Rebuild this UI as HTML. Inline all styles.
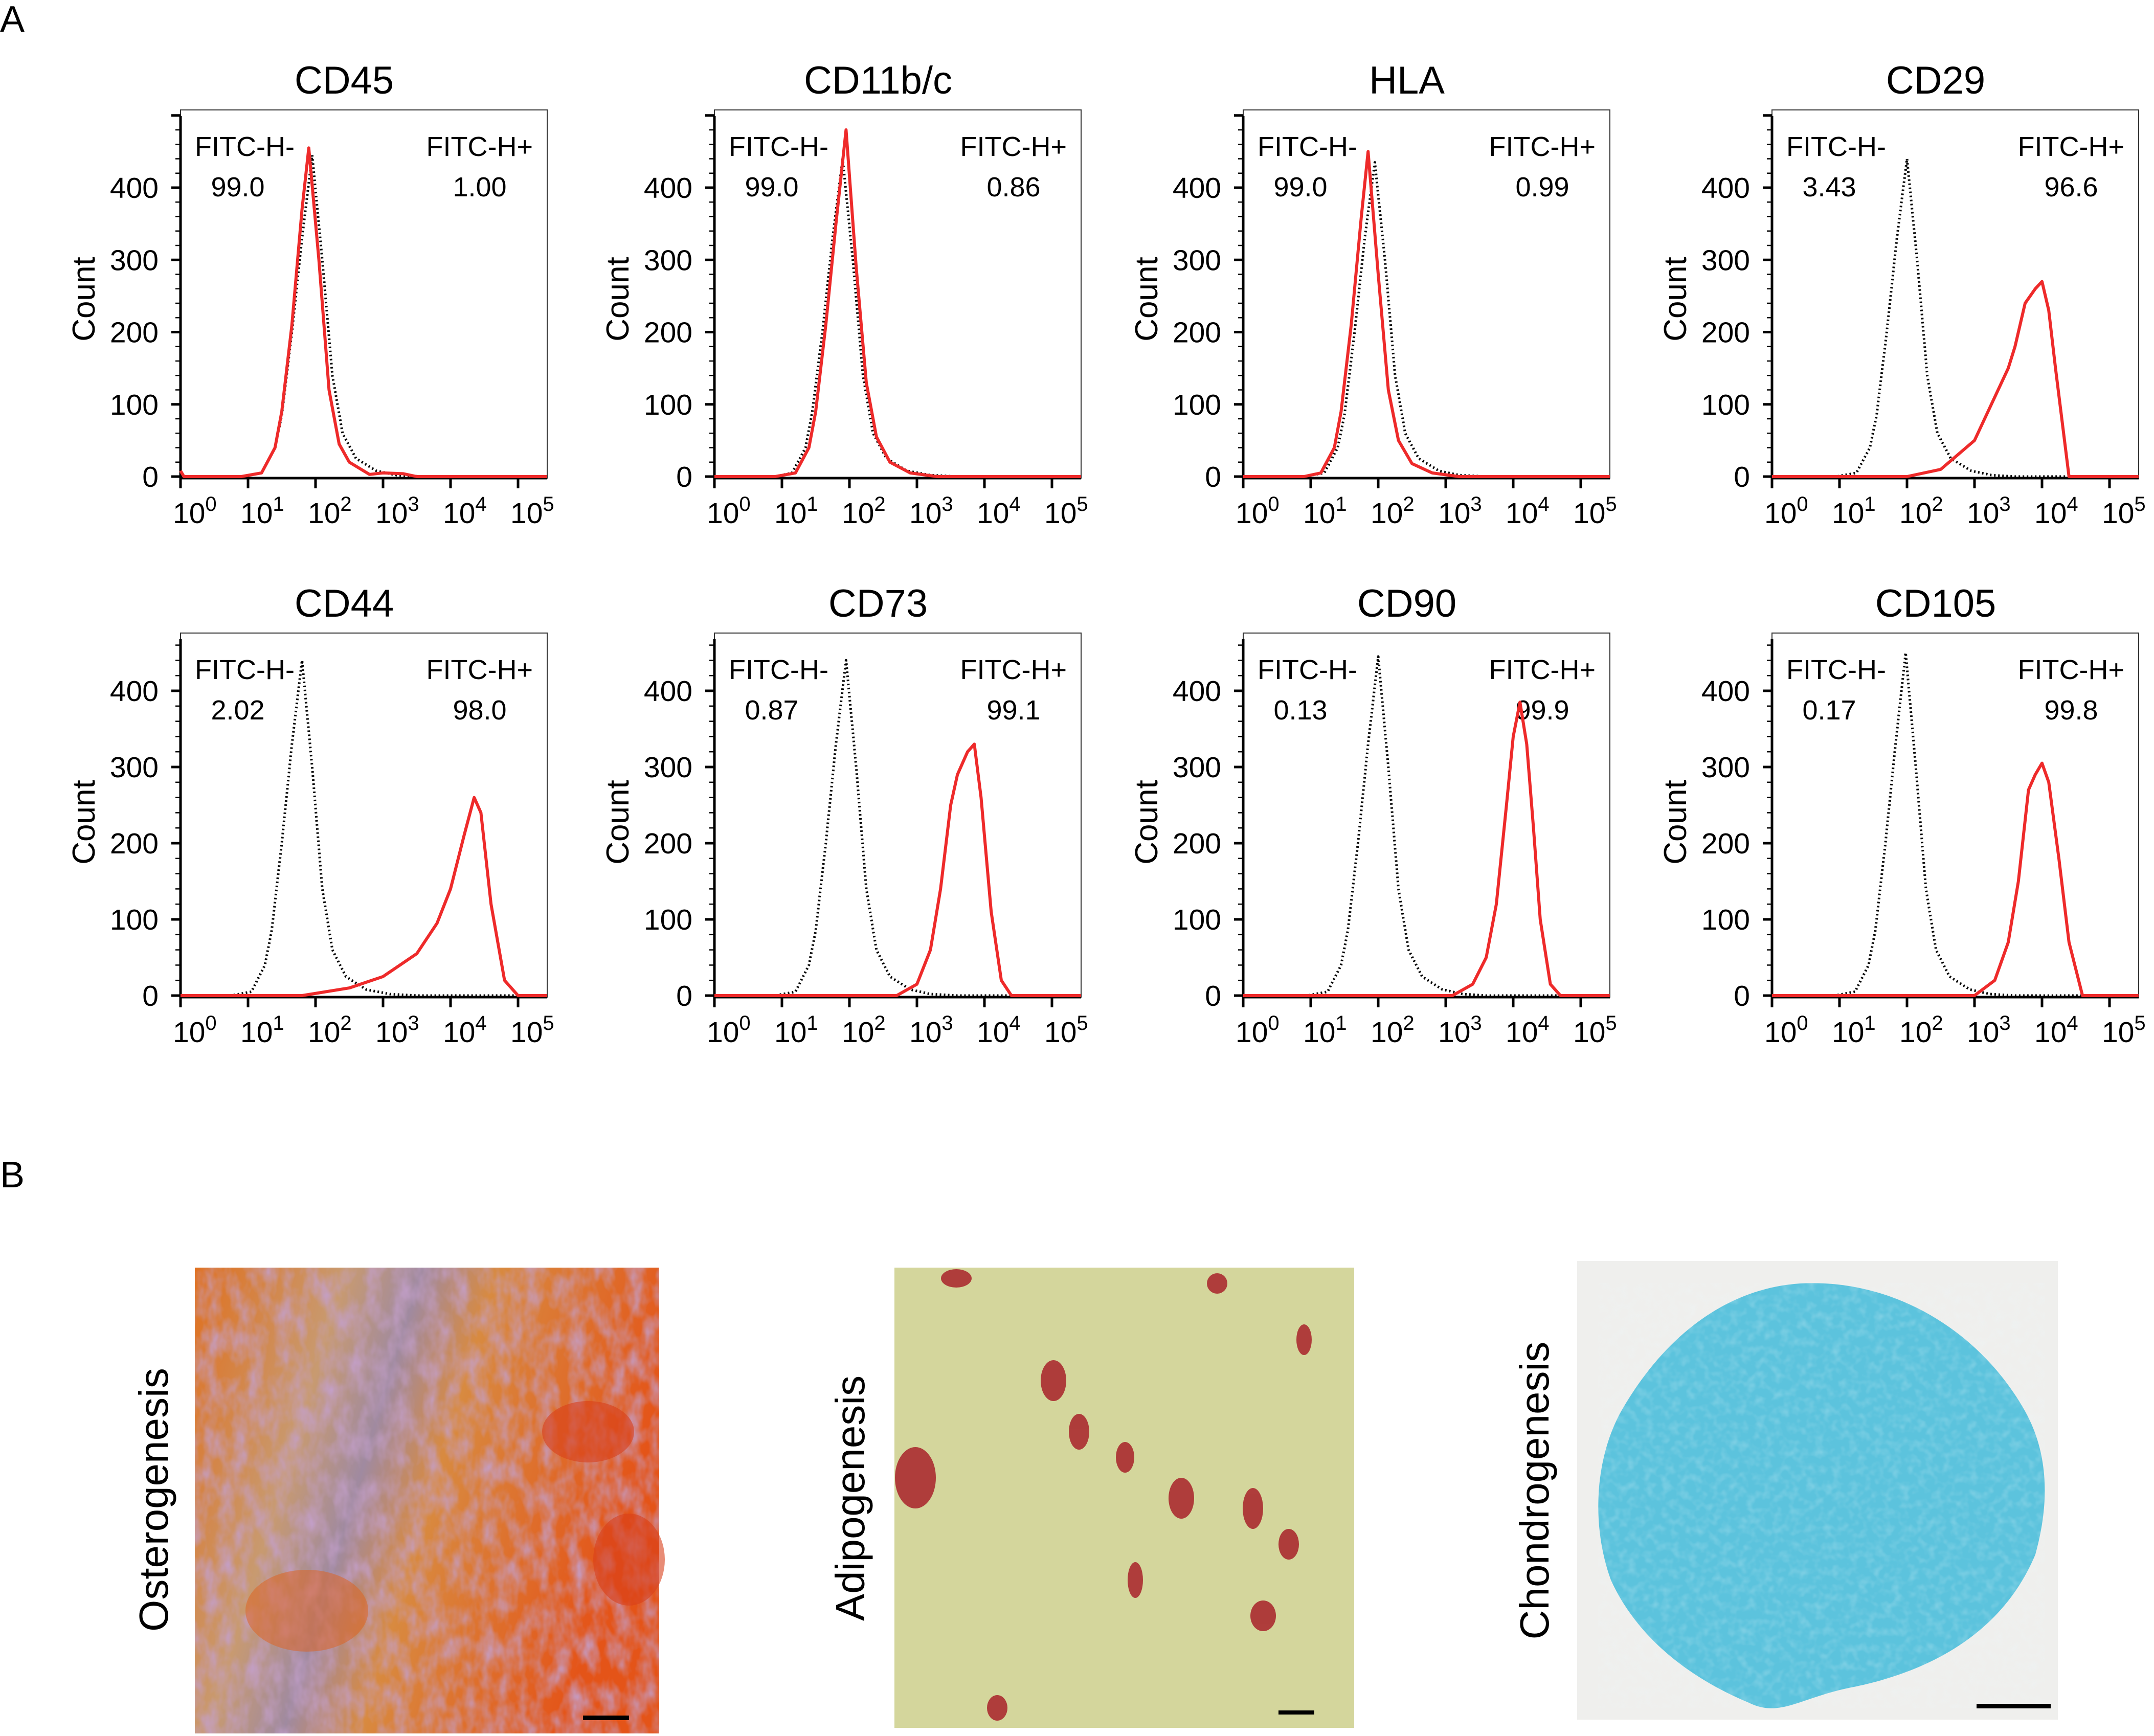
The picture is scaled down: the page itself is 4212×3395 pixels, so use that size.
<!DOCTYPE html>
<html><head><meta charset="utf-8"><style>
html,body{margin:0;padding:0;background:#fff}
svg{display:block}
text{font-family:"Liberation Sans",Arial,sans-serif;fill:#000}
</style></head><body>
<svg id="fig" width="4212" height="3395" viewBox="0 0 4212 3395" xmlns="http://www.w3.org/2000/svg">
<defs>
<filter id="noiseO" x="0" y="0" width="100%" height="100%">
<feTurbulence type="fractalNoise" baseFrequency="0.035 0.02" numOctaves="3" seed="3"/>
<feColorMatrix type="matrix" values="0 0 0 0 0.55  0 0 0 0 0.35  0 0 0 0 0.6  1.6 0 0 0 -0.55"/>
</filter>
<filter id="noiseC" x="0" y="0" width="100%" height="100%">
<feTurbulence type="fractalNoise" baseFrequency="0.06" numOctaves="2" seed="7"/>
<feColorMatrix type="matrix" values="0 0 0 0 0.85  0 0 0 0 0.95  0 0 0 0 0.98  1.4 0 0 0 -0.6"/>
</filter>
<linearGradient id="ostBand" x1="0" y1="0" x2="1" y2="0.3">
<stop offset="0" stop-color="#e0701e"/>
<stop offset="0.3" stop-color="#c89a70"/>
<stop offset="0.45" stop-color="#a08aa0"/>
<stop offset="0.6" stop-color="#d88a40"/>
<stop offset="1" stop-color="#e45418"/>
</linearGradient>
</defs>
<text x="0" y="62" font-size="72">A</text>
<text x="0" y="2322" font-size="72">B</text>
<g id="charts"></g>

<g>
<rect x="381" y="2479" width="908" height="911" fill="url(#ostBand)"/>
<rect x="381" y="2479" width="908" height="911" filter="url(#noiseO)"/>
<ellipse cx="1150" cy="2800" rx="90" ry="60" fill="#d8401a" opacity="0.6"/>
<ellipse cx="1230" cy="3050" rx="70" ry="90" fill="#d8401a" opacity="0.6"/>
<ellipse cx="600" cy="3150" rx="120" ry="80" fill="#e0601a" opacity="0.5"/>
<rect x="1140" y="3355" width="90" height="9" fill="#000"/>
</g>
<text transform="translate(328,2933) rotate(-90)" text-anchor="middle" font-size="80">Osterogenesis</text>

<g>
<rect x="1749" y="2479" width="899" height="900" fill="#d4d69c"/>
<g fill="#a8222a" opacity="0.85">
<ellipse cx="1790" cy="2890" rx="40" ry="60"/>
<ellipse cx="2060" cy="2700" rx="25" ry="40"/>
<ellipse cx="2110" cy="2800" rx="20" ry="35"/>
<ellipse cx="2200" cy="2850" rx="18" ry="30"/>
<ellipse cx="2310" cy="2930" rx="25" ry="40"/>
<ellipse cx="2450" cy="2950" rx="20" ry="40"/>
<ellipse cx="2520" cy="3020" rx="20" ry="30"/>
<ellipse cx="2220" cy="3090" rx="15" ry="35"/>
<ellipse cx="2470" cy="3160" rx="25" ry="30"/>
<ellipse cx="1950" cy="3340" rx="20" ry="25"/>
<ellipse cx="1870" cy="2500" rx="30" ry="18"/>
<ellipse cx="2380" cy="2510" rx="20" ry="20"/>
<ellipse cx="2550" cy="2620" rx="15" ry="30"/>
</g>
<rect x="2500" y="3345" width="70" height="8" fill="#000"/>
</g>
<text transform="translate(1690,2930) rotate(-90)" text-anchor="middle" font-size="80">Adipogenesis</text>

<g>
<rect x="3084" y="2466" width="940" height="897" fill="#efefed"/>
<path d="M3520 2510 C3700 2500 3870 2600 3960 2760 C4010 2850 4005 2950 3980 3040 C3930 3160 3820 3260 3620 3300 C3520 3320 3480 3360 3420 3330 C3300 3280 3200 3200 3150 3090 C3110 2980 3120 2850 3170 2760 C3250 2620 3370 2520 3520 2510 Z" fill="#5cc3dd"/>
<path d="M3520 2510 C3700 2500 3870 2600 3960 2760 C4010 2850 4005 2950 3980 3040 C3930 3160 3820 3260 3620 3300 C3520 3320 3480 3360 3420 3330 C3300 3280 3200 3200 3150 3090 C3110 2980 3120 2850 3170 2760 C3250 2620 3370 2520 3520 2510 Z" fill="#cdeff6" opacity="0.35" filter="url(#noiseC)"/>
<rect x="3865" y="3332" width="145" height="9" fill="#000"/>
</g>
<text transform="translate(3028,2915) rotate(-90)" text-anchor="middle" font-size="80">Chondrogenesis</text>
</svg>
<script>
// ---- data ----
const markers = ["CD45","CD11b/c","HLA","CD29","CD44","CD73","CD90","CD105"];
const negPct = ["99.0","99.0","99.0","3.43","2.02","0.87","0.13","0.17"];
const posPct = ["1.00","0.86","0.99","96.6","98.0","99.1","99.9","99.8"];
const yTicks = [0,100,200,300,400];
const xTickExp = [0,1,2,3,4,5];

const ctrlX = [
 [0,0.9,1.2,1.4,1.5,1.65,1.8,1.95,2.1,2.25,2.4,2.6,2.9,3.2,3.6,5.43],
 [0,0.9,1.15,1.35,1.45,1.6,1.75,1.9,2.05,2.2,2.35,2.55,2.85,3.2,3.6,5.43],
 [0,0.9,1.2,1.4,1.5,1.65,1.8,1.95,2.1,2.25,2.4,2.6,2.9,3.2,3.6,5.43],
 [0,0.95,1.25,1.45,1.55,1.7,1.85,2.0,2.15,2.3,2.45,2.65,2.95,3.25,3.6,5.43],
 [0,0.75,1.05,1.25,1.35,1.5,1.65,1.8,1.95,2.1,2.25,2.45,2.75,3.1,3.5,5.43],
 [0,0.9,1.2,1.4,1.5,1.65,1.8,1.95,2.1,2.25,2.4,2.6,2.9,3.2,3.6,5.43],
 [0,0.95,1.25,1.45,1.55,1.7,1.85,2.0,2.15,2.3,2.45,2.65,2.95,3.25,3.6,5.43],
 [0,0.93,1.23,1.43,1.53,1.68,1.83,1.98,2.13,2.28,2.43,2.63,2.93,3.23,3.6,5.43]
];
const ctrlY = [
 [0,0,5,40,85,200,330,445,300,140,60,25,8,2,0,0],
 [0,0,5,40,90,200,330,440,300,140,60,25,8,2,0,0],
 [0,0,5,40,85,200,330,435,300,140,60,25,8,2,0,0],
 [0,0,5,40,85,200,330,440,300,140,60,25,8,2,0,0],
 [0,0,5,40,85,200,330,440,300,140,60,25,8,2,0,0],
 [0,0,5,40,85,200,330,440,300,140,60,25,8,2,0,0],
 [0,0,5,40,85,200,330,445,300,140,60,25,8,2,0,0],
 [0,0,5,40,85,200,330,450,300,140,60,25,8,2,0,0]
];
const sampX = [
 [0,0.05,0.9,1.2,1.4,1.5,1.65,1.8,1.9,2.05,2.2,2.35,2.5,2.8,3.0,3.3,3.5,5.43],
 [0,0.9,1.2,1.4,1.5,1.65,1.8,1.95,2.1,2.25,2.4,2.6,2.9,3.3,5.43],
 [0,0.9,1.15,1.35,1.45,1.6,1.75,1.85,2.0,2.15,2.3,2.5,2.8,3.2,5.43],
 [0,2.0,2.5,3.0,3.3,3.5,3.6,3.75,3.9,4.0,4.1,4.2,4.4,5.43],
 [0,1.8,2.5,3.0,3.5,3.8,4.0,4.2,4.35,4.45,4.6,4.8,5.0,5.43],
 [0,2.7,3.0,3.2,3.35,3.5,3.6,3.75,3.85,3.95,4.1,4.25,4.4,5.43],
 [0,3.1,3.4,3.6,3.75,3.9,4.0,4.1,4.2,4.3,4.4,4.55,4.7,5.43],
 [0,3.0,3.3,3.5,3.65,3.8,3.9,4.0,4.1,4.25,4.4,4.6,5.43]
];
const sampY = [
 [8,0,0,5,40,90,210,370,455,300,120,45,20,3,5,4,0,0],
 [0,0,5,40,90,210,350,480,290,130,55,20,5,0,0],
 [0,0,5,40,90,210,360,450,280,120,50,18,5,0,0],
 [0,0,10,50,110,150,180,240,260,270,230,150,0,0],
 [0,0,10,25,55,95,140,210,260,240,120,20,0,0],
 [0,0,15,60,140,250,290,320,330,260,110,20,0,0],
 [0,0,15,50,120,250,340,385,330,220,100,15,0,0],
 [0,0,20,70,150,270,290,305,280,180,70,0,0]
];

// ---- layout ----
const NS = "http://www.w3.org/2000/svg";
const colLeft = [353,1397,2431,3465];
const rowTop = [215,1238];
const rowZero = [932,1947];
const rowPxPerCount = [1.4125,1.49];
const boxW = 717, decadePx = 132;
const root = document.getElementById('charts');

function mk(tag, attrs, parent){
  const e = document.createElementNS(NS, tag);
  for (const k in attrs) e.setAttribute(k, attrs[k]);
  (parent||root).appendChild(e);
  return e;
}
function txt(s, attrs, parent){ const t = mk('text', attrs, parent); t.textContent = s; return t; }

markers.forEach((m, i) => {
  const r = Math.floor(i/4), c = i % 4;
  const L = colLeft[c], T = rowTop[r], Z = rowZero[r], k = rowPxPerCount[r];
  const B = Z + 3, R = L + boxW;
  const xs = v => L + v * decadePx;
  const ys = v => Z - v * k;
  const g = mk('g', {});
  
  

  const title = txt(m, {x: L + 320, y: T - 32, 'font-size': 76, 'text-anchor': 'middle'}, g);
  
  

  const box = mk('rect', {x: L, y: T, width: boxW, height: B - T, fill: 'none', stroke: '#333', 'stroke-width': 2}, g);
  
  
  const yAx = mk('line', {x1: L, y1: T + 12, x2: L, y2: B, stroke: '#000', 'stroke-width': 5}, g);
  
  
  for (let v = 0; v <= 500; v += 20) {
    if (ys(v) < T + 8) break;
    const major = v % 100 === 0;
    const tk = mk('line', {x1: L - (major ? 18 : 10), x2: L, y1: ys(v), y2: ys(v), stroke: '#000', 'stroke-width': major ? 5 : 2.5}, g);
    
    
  }
  yTicks.forEach(v => {
    const t = txt(String(v), {x: L - 43, y: ys(v) + 20, 'font-size': 57, 'text-anchor': 'end'}, g);
    
    
  });
  const yt = txt('Count', {transform: `translate(${L - 168},${T + 370}) rotate(-90)`, 'font-size': 62, 'text-anchor': 'middle'}, g);
  
  
  const xAx = mk('line', {x1: L, y1: B, x2: R, y2: B, stroke: '#000', 'stroke-width': 5}, g);
  
  
  xTickExp.forEach(e => {
    const tk = mk('line', {x1: xs(e), x2: xs(e), y1: B, y2: B + 20, stroke: '#000', 'stroke-width': 5}, g);
    
    
    const t = mk('text', {x: xs(e) - 15, y: B + 88, 'font-size': 57, 'text-anchor': 'start'}, g);
    
    
    const t1 = mk('tspan', {}, t); t1.textContent = '10';
    const t2 = mk('tspan', {dy: -24, 'font-size': 40}, t); t2.textContent = String(e);
  });
  const gl = [
    ['FITC-H-', L + 28, T + 90, 'start', 'gate-negative-label'],
    [negPct[i], L + 112, T + 169, 'middle', 'gate-negative-value'],
    ['FITC-H+', R - 28, T + 90, 'end', 'gate-positive-label'],
    [posPct[i], R - 132, T + 169, 'middle', 'gate-positive-value']
  ];
  gl.forEach(a => {
    const t = txt(a[0], {x: a[1], y: a[2], 'font-size': 54, 'text-anchor': a[3]}, g);
    
    
  });
  const pts = (X, Y) => X.map((v, j) => xs(v).toFixed(1) + ',' + ys(Y[j]).toFixed(1)).join(' ');
  const ctrl = mk('polyline', {points: pts(ctrlX[i], ctrlY[i]), fill: 'none', stroke: '#000', 'stroke-width': 5, 'stroke-dasharray': '3 5', 'stroke-linejoin': 'round'}, g);
  
  
  const samp = mk('polyline', {points: pts(sampX[i], sampY[i]), fill: 'none', stroke: '#ee2a2a', 'stroke-width': 6, 'stroke-linejoin': 'round'}, g);
  
  
});
</script>
</body></html>
